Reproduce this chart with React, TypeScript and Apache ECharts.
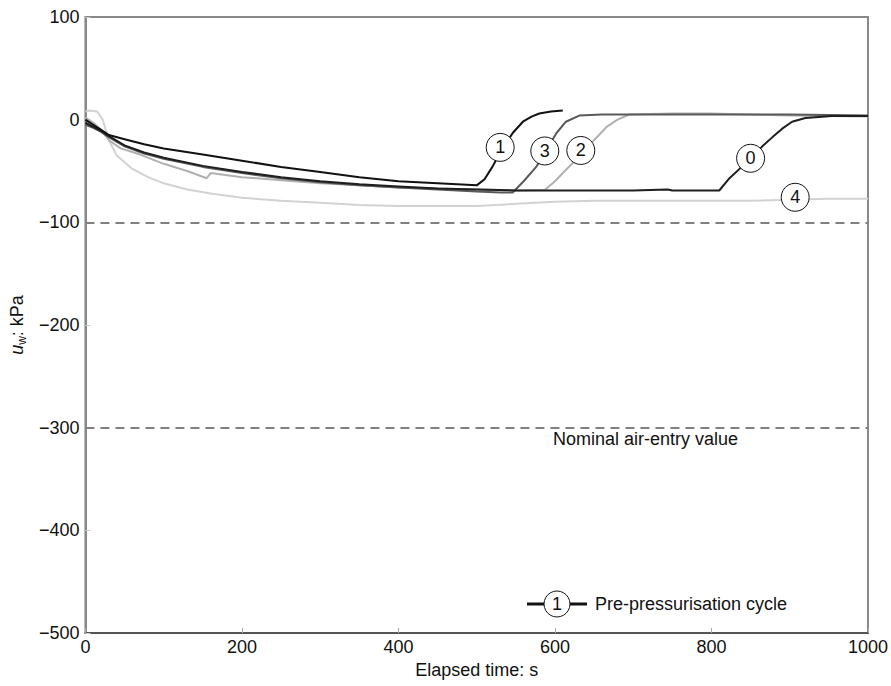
import React, { useEffect, useRef } from "react";
import * as echarts from "echarts";

// Elapsed time (s) and pore-water pressure u_w (kPa) per pre-pressurisation cycle
const cycle0T = [0, 10, 20, 30, 50, 75, 100, 150, 200, 250, 300, 350, 400, 450, 500, 550, 600, 650, 700, 744, 750, 800, 810, 823, 840, 852, 865, 878, 890, 903, 920, 954, 1000];
const cycle0U = [-3, -7, -11, -16, -25, -32, -37, -45, -51, -56, -60, -63, -65, -67, -68, -69, -69, -69, -69, -68, -69, -69, -69, -57, -45, -36, -26, -17, -9, -2, 1.6, 3.5, 3.5];

const cycle1T = [0, 10, 20, 30, 50, 75, 100, 150, 200, 250, 300, 350, 400, 450, 500, 510, 520, 530, 546, 559, 570, 580, 595, 610];
const cycle1U = [0, -5, -10, -15, -19, -24, -28, -34, -40, -46, -51, -56, -60, -62, -64, -58, -46, -32, -13, -2, 3, 6, 8, 9];

const cycle2T = [0, 10, 20, 30, 45, 70, 100, 130, 155, 160, 200, 250, 300, 350, 400, 450, 500, 550, 587, 600, 615, 631, 650, 666, 680, 695, 750, 800, 900, 1000];
const cycle2U = [2, -3, -10, -20, -28, -34, -43, -50, -57, -52, -56, -59, -62, -64, -66, -67, -68, -69, -68.5, -60, -48, -36, -20, -7, 0, 5, 6, 6, 4, 3];

const cycle3T = [0, 10, 20, 30, 50, 75, 100, 150, 200, 250, 300, 350, 400, 450, 500, 530, 546, 560, 576, 590, 602, 614, 631, 660, 700, 800, 900, 1000];
const cycle3U = [-5, -8, -12, -17, -26, -33, -38, -46, -52, -57, -61, -64, -66, -68, -70, -71, -71, -60, -46, -28, -13, -2, 4, 5, 5, 5, 5, 4];

const cycle4T = [0, 5, 15, 22, 30, 40, 60, 80, 100, 130, 160, 200, 250, 300, 350, 400, 450, 500, 550, 600, 650, 700, 750, 800, 850, 900, 950, 1000];
const cycle4U = [8, 9, 8, 0, -20, -35, -48, -56, -62, -68, -72, -76, -79, -81, -83, -84, -84, -84, -82, -80, -79, -79, -79, -79, -79, -78, -77, -77];

const cycleNames = ["0", "1", "2", "3", "4"];
const cycleColors = ["#1e1e1e", "#111111", "#b0b0b0", "#5a5a5a", "#d2d2d2"];
// Circle label positions (time, u_w) for each cycle
const labelT = [850, 530, 633, 587, 907];
const labelU = [-37.6, -27, -30, -30.5, -75.6];

const airEntryLevels = [-100, -300];
const xTicks = [0, 200, 400, 600, 800, 1000];
const yTicks = [-500, -400, -300, -200, -100, 0, 100];

const FONT = "'Liberation Sans', Arial, sans-serif";
const FS = 18;

function zip(t: number[], u: number[]) {
  return t.map((v, i) => [v, u[i]]);
}

export default function App() {
  const ref = useRef<HTMLDivElement>(null);
  useEffect(() => {
    if (!ref.current) return;
    const chart = echarts.init(ref.current, undefined, { renderer: "svg" });
    const ts = [cycle0T, cycle1T, cycle2T, cycle3T, cycle4T];
    const us = [cycle0U, cycle1U, cycle2U, cycle3U, cycle4U];
    // draw order: light ones first
    const order = [4, 2, 3, 0, 1];
    const series: any[] = order.map((k) => ({
      type: "line",
      name: "cycle " + cycleNames[k],
      data: zip(ts[k], us[k]),
      showSymbol: false,
      symbol: "none",
      lineStyle: { color: cycleColors[k], width: 2 },
      z: 3,
      markPoint: {
        symbol: "circle",
        symbolSize: 28,
        itemStyle: { color: "#fff", borderColor: "#111", borderWidth: 1 },
        label: { show: true, color: "#111", fontSize: FS, fontFamily: FONT, formatter: cycleNames[k] },
        data: [{ coord: [labelT[k], labelU[k]] }],
        z: 10,
      },
    }));
    series.push({
      type: "line",
      name: "air-entry",
      data: [],
      markLine: {
        symbol: "none",
        silent: true,
        label: { show: false },
        lineStyle: { color: "#808080", width: 2, type: [9, 6] },
        data: airEntryLevels.map((v) => ({ yAxis: v })),
      },
    });
    chart.setOption({
      animation: false,
      grid: { left: 85, right: 22, top: 17, bottom: 53, show: true, borderColor: "#888", borderWidth: 2 },
      xAxis: {
        type: "value",
        min: xTicks[0],
        max: xTicks[xTicks.length - 1],
        interval: 200,
        name: "Elapsed time: s",
        nameLocation: "middle",
        nameGap: 28,
        nameTextStyle: { color: "#111", fontSize: FS, fontFamily: FONT },
        axisLine: { onZero: false, lineStyle: { color: "#555", width: 2 } },
        axisTick: { inside: true, length: 5, lineStyle: { color: "#aaa" } },
        axisLabel: { color: "#111", fontSize: FS, fontFamily: FONT, margin: 5, formatter: (v: number) => String(v) },
        splitLine: { show: false },
      },
      yAxis: {
        type: "value",
        min: yTicks[0],
        max: yTicks[yTicks.length - 1],
        interval: 100,
        name: "{u|u}{w|w}{k|: kPa}",
        nameLocation: "middle",
        nameRotate: 90,
        nameGap: 53,
        nameTextStyle: {
          rich: {
            u: { fontStyle: "italic", fontSize: FS, fontFamily: FONT, color: "#111", lineHeight: 22 },
            w: { fontSize: 12, fontFamily: FONT, color: "#111", lineHeight: 12, verticalAlign: "bottom" },
            k: { fontSize: FS, fontFamily: FONT, color: "#111", lineHeight: 22 },
          },
        },
        axisLine: { onZero: false, lineStyle: { color: "#888", width: 2 } },
        axisTick: { inside: true, length: 5, lineStyle: { color: "#ccc" } },
        axisLabel: {
          color: "#111",
          fontSize: FS,
          fontFamily: FONT,
          margin: 6,
          formatter: (v: number) => (v < 0 ? "\u2212" + Math.abs(v) : String(v)),
        },
        splitLine: { show: false },
      },
      graphic: [
        { type: "text", left: 553, top: 430, style: { text: "Nominal air-entry value", fill: "#111", font: FS + "px " + FONT } },
        { type: "line", shape: { x1: 527, y1: 604, x2: 587, y2: 604 }, style: { stroke: "#111", lineWidth: 3 }, z: 20 },
        { type: "circle", shape: { cx: 557, cy: 604, r: 13 }, style: { fill: "#fff", stroke: "#111", lineWidth: 1 }, z: 21 },
        { type: "text", x: 557, y: 604, style: { text: "1", fill: "#111", font: FS + "px " + FONT, align: "center", verticalAlign: "middle" }, z: 22 },
        { type: "text", x: 595, y: 604, style: { text: "Pre-pressurisation cycle", fill: "#111", font: FS + "px " + FONT, verticalAlign: "middle" }, z: 22 },
      ],
      series,
    });
    return () => chart.dispose();
  }, []);
  return <div ref={ref} style={{ position: "absolute", left: 0, top: 0, width: 891, height: 686 }} />;
}
